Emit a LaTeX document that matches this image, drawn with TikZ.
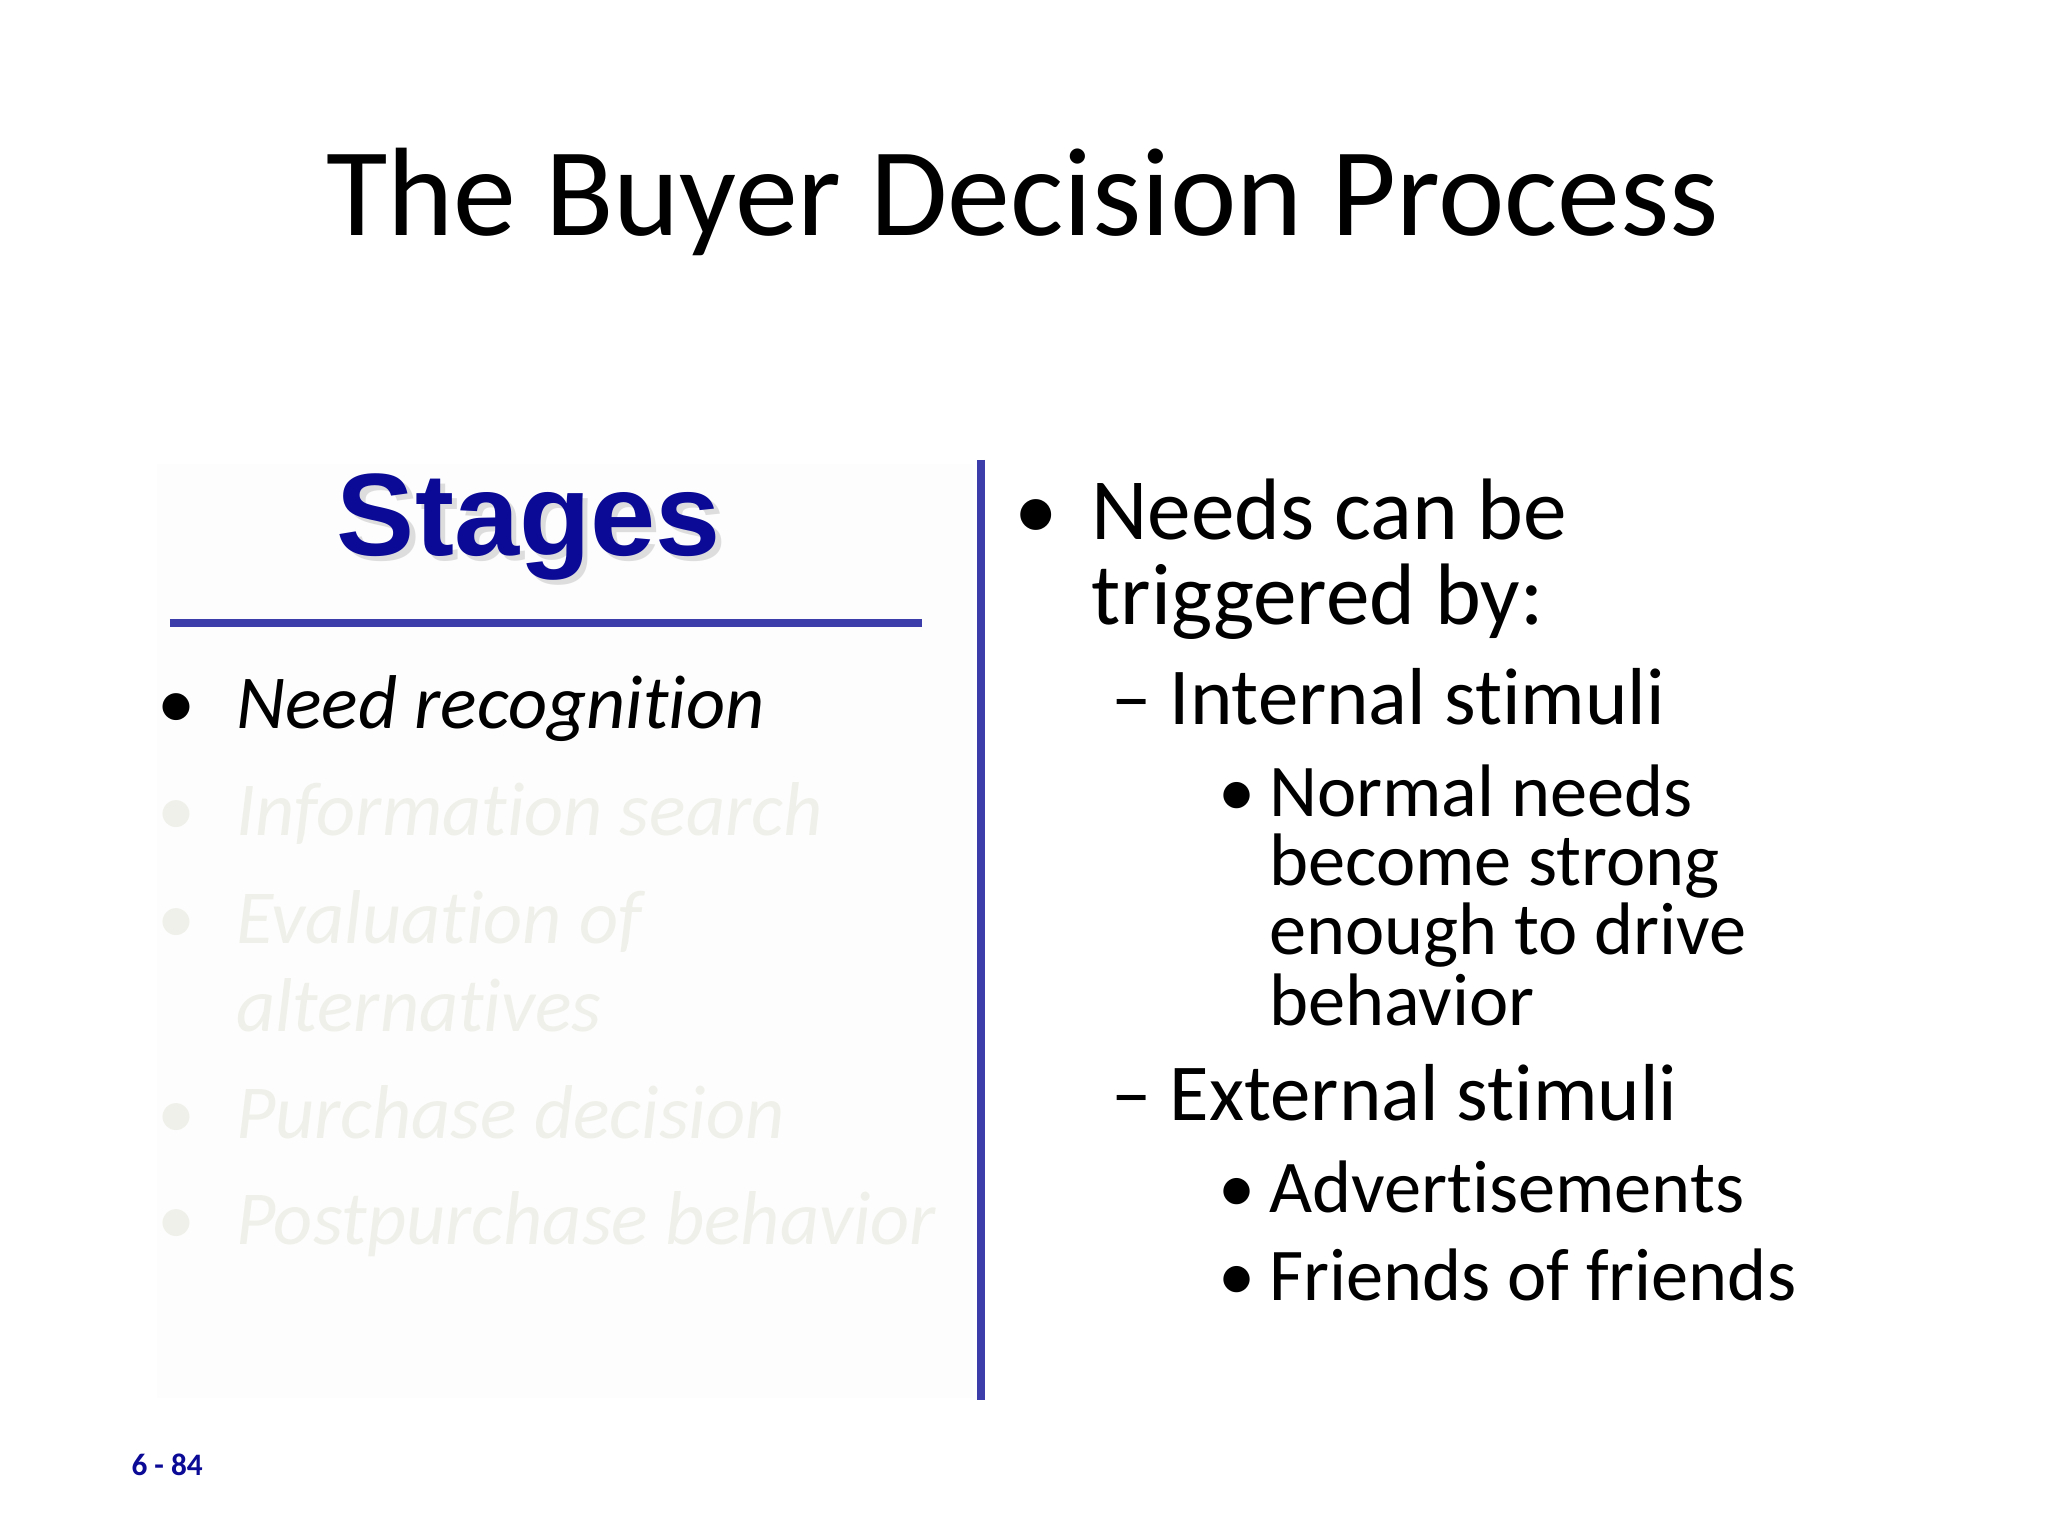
\documentclass[tikz,border=0pt]{standalone}
\usepackage{fontspec}
\setmainfont{Carlito}[Ligatures={NoCommon}]
\newfontfamily\arialb{Liberation Sans}[UprightFont=* Bold]
\definecolor{stblue}{RGB}{10,10,150}
\definecolor{fade}{RGB}{240,240,234}
\definecolor{lineblue}{RGB}{60,60,170}
\begin{document}
\begin{tikzpicture}[x=0.01cm,y=-0.01cm,
  txt/.style={anchor=base west,inner sep=0pt},
  bul/.style={anchor=base west,inner sep=0pt,font=\fontsize{#1}{#1}\selectfont\raisebox{0.08em}{\scalebox{0.8}{•}}},
  fz/.style={font=\fontsize{#1}{#1}\selectfont}]
\useasboundingbox (0,0) rectangle (1568,1176);
\fill[black!0.8] (120,355) rectangle (745,1070);
\node[anchor=base,inner sep=0pt,fz=27.4] (title) at (783,180) {The Buyer Decision Process};
\node[anchor=base,inner sep=0pt,text=black!25,fz=25.5,opacity=0.5] at (409,429) {\arialb Stages};
\node[anchor=base,inner sep=0pt,text=stblue,fz=25.5] (stages) at (405,425) {\arialb Stages};
\coordinate (h1) at (130,477); \coordinate (h2) at (706,477);
\draw[lineblue,line width=1.6pt] (h1) -- (h2);
\coordinate (v1) at (751,352); \coordinate (v2) at (751,1072);
\draw[lineblue,line width=1.8pt] (v1) -- (v2);
% left list
\node[txt,fz=16.6] (b1) at (120,558) {•};
\node[txt,fz=16.6] (l1) at (180,558) {\itshape Need recognition};
\foreach \y/\t in {640/Information search,722/Evaluation of,872/Purchase decision,953/Postpurchase behavior}
  {\node[txt,fz=16.6,text=fade] at (120,\y) {•};
   \node[txt,fz=16.6,text=fade] at (180,\y) {\itshape \t};}
\node[txt,fz=16.6,text=fade] (l3b) at (180,790) {\itshape alternatives};
% right
\node[txt,fz=19] (rb) at (776,413) {•};
\node[txt,fz=19] (r1) at (835,413) {Needs can be};
\node[txt,fz=19] (r2) at (835,478) {triggered by:};
\node[txt,fz=17.6] (r3) at (850,555) {– Internal stimuli};
\node[txt,fz=16.2] at (932,625) {•};
\node[txt,fz=16.2] (r4) at (971,625) {Normal needs};
\node[txt,fz=16.2] (r5) at (971,678) {become strong};
\node[txt,fz=16.2] (r6) at (971,731) {enough to drive};
\node[txt,fz=16.2] (r7) at (971,785) {behavior};
\node[txt,fz=17.6] (r8) at (850,858) {– External stimuli};
\node[txt,fz=16.2] at (932,928) {•};
\node[txt,fz=16.2] (r9) at (971,928) {Advertisements};
\node[txt,fz=16.2] at (932,996) {•};
\node[txt,fz=16.2] (r10) at (971,996) {Friends of friends};
\node[txt,fz=6.8,text=stblue] (pg) at (100,1130) {\bfseries 6 - 84};
\end{tikzpicture}
\end{document}
